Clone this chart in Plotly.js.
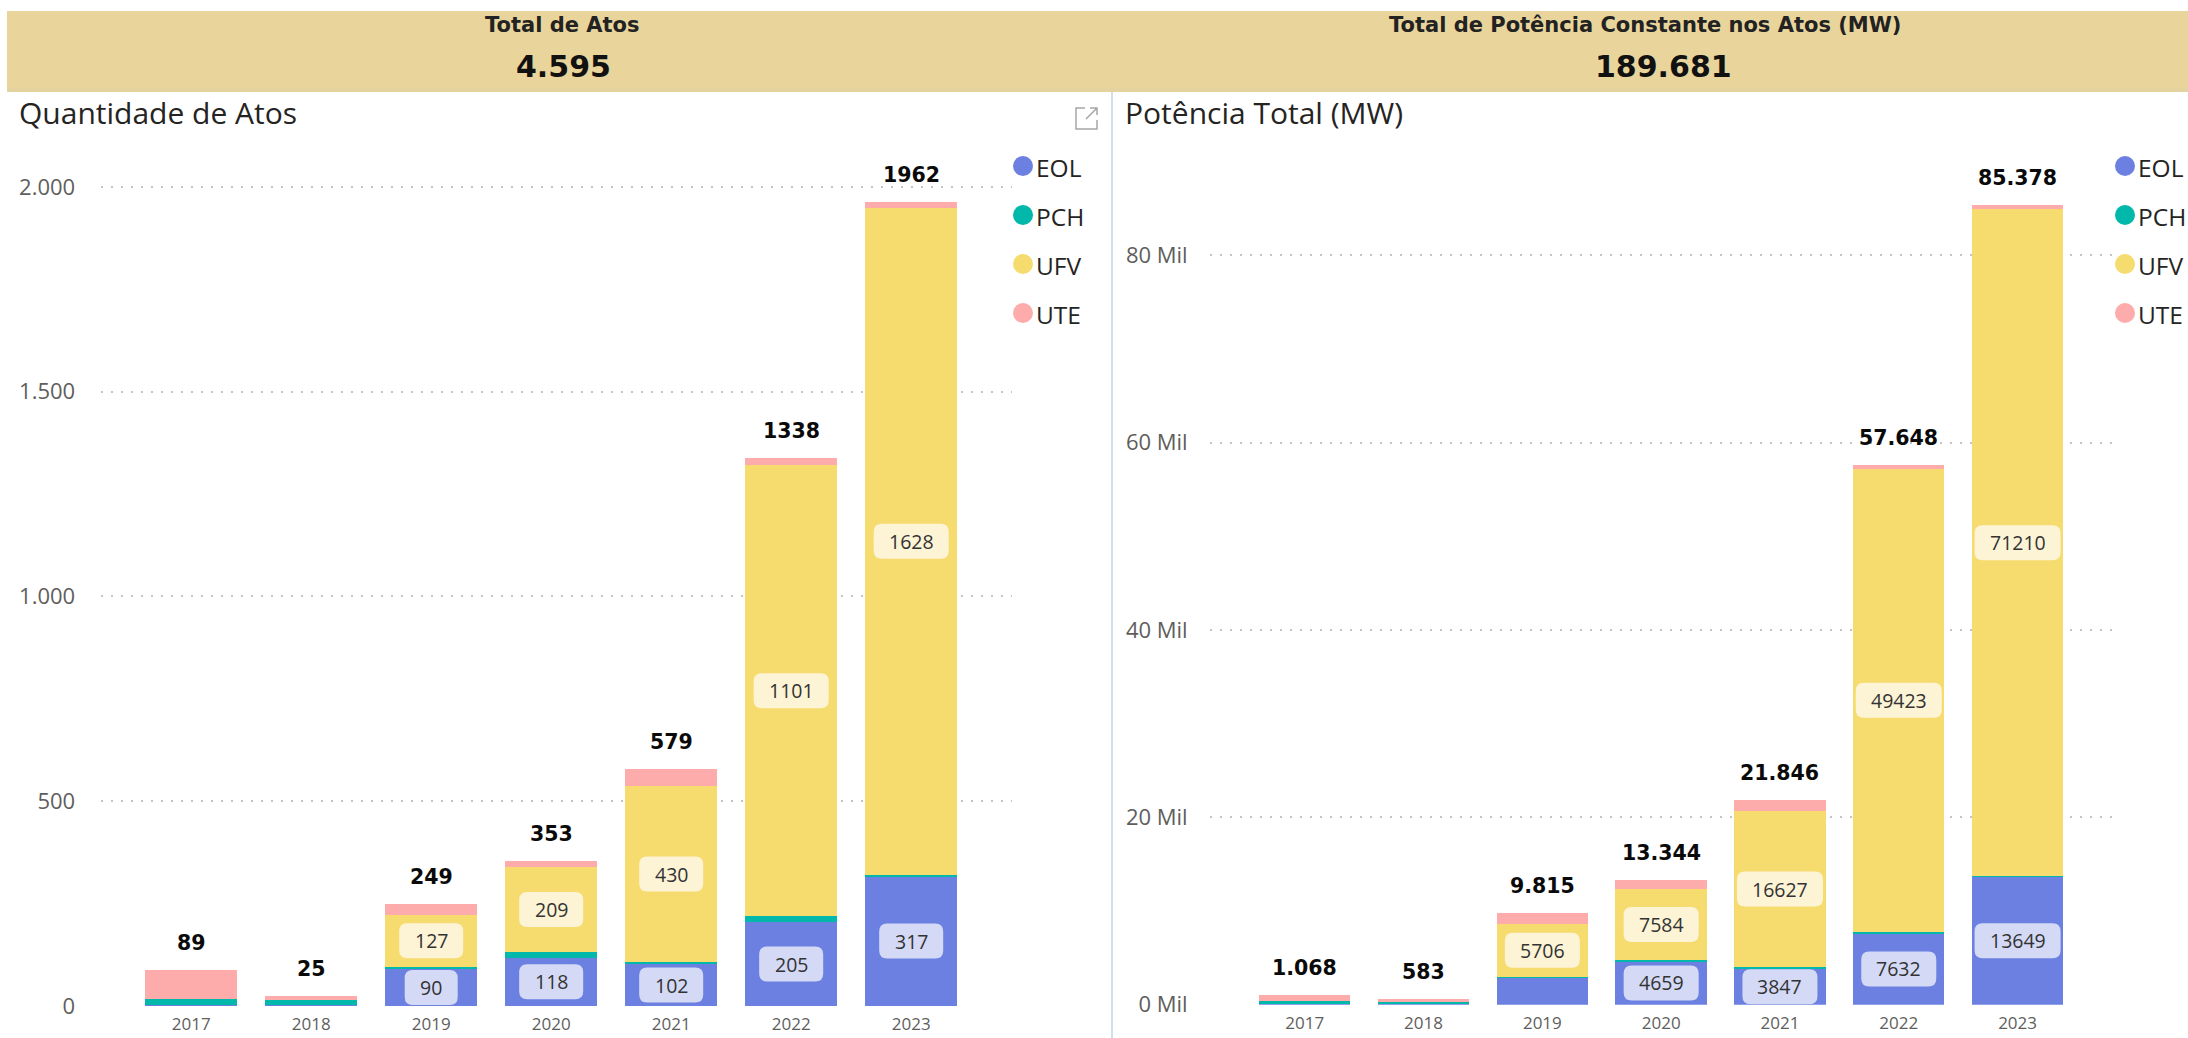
<!DOCTYPE html>
<html><head><meta charset="utf-8">
<script src="https://cdn.plot.ly/plotly-3.0.1.min.js"></script>
<style>html,body{margin:0;padding:0;background:#fff;overflow:hidden}#chart{width:2188px;height:1038px}</style>
</head><body><div id="chart"></div>
<script>
// ---------- data ----------
const years = ['2017', '2018', '2019', '2020', '2021', '2022', '2023'];
const seriesNames = ['EOL', 'PCH', 'UFV', 'UTE'];

// Quantidade de Atos
const atosEOL = [2, 3, 90, 118, 102, 205, 317];
const atosPCH = [16, 11, 6, 13, 5, 14, 4];
const atosUFV = [0, 0, 127, 209, 430, 1101, 1628];
const atosUTE = [71, 11, 26, 13, 42, 18, 13];

// Potência Total (MW)
const potEOL = [100, 120, 2900, 4659, 3847, 7632, 13649];
const potPCH = [250, 150, 50, 120, 182, 163, 60];
const potUFV = [0, 0, 5706, 7584, 16627, 49423, 71210];
const potUTE = [718, 313, 1159, 981, 1190, 430, 459];

const atosTickVals = [0, 500, 1000, 1500, 2000];
const potTickVals = [0, 20000, 40000, 60000, 80000];
const potTickText = ['0 Mil', '20 Mil', '40 Mil', '60 Mil', '80 Mil'];

const cardTitles = ['Total de Atos', 'Total de Potência Constante nos Atos (MW)'];
const cardValues = ['4.595', '189.681'];
const chartTitles = ['Quantidade de Atos', 'Potência Total (MW)'];

// ---------- styles ----------
const colors = ['#6B80E0', '#01B8AA', '#F6DB6F', '#FDABAB'];
const labelBg = ['#D4DAF6', null, '#FDF4D6', null];
const W = 2188, H = 1038;
const px = x => x / W;
const py = y => 1 - y / H;
const GRID = '#C4C4C4';
const TXT = '#252423';
const AX = '#605E5C';

const atosSeries = [atosEOL, atosPCH, atosUFV, atosUTE];
const potSeries = [potEOL, potPCH, potUFV, potUTE];

const dotFmt = n => String(n).replace(/\B(?=(\d{3})+(?!\d))/g, '.');

const traces = [];
const annotations = [];
const shapes = [];

function addChart(seriesArr, xr, yr, yTop, totalFmt, legendX) {
  seriesArr.forEach((vals, i) => {
    traces.push({
      type: 'bar', x: years, y: vals, name: seriesNames[i],
      xaxis: xr, yaxis: yr, showlegend: false,
      marker: {color: colors[i], line: {width: 0}},
      hovertemplate: '%{x} ' + seriesNames[i] + ': %{y}<extra></extra>'
    });
    // legend entry (circle + text)
    const cy = 166 + 49 * i;
    shapes.push({type: 'circle', xref: 'paper', yref: 'paper',
      x0: px(legendX - 10), x1: px(legendX + 10), y0: py(cy + 10), y1: py(cy - 10),
      fillcolor: colors[i], line: {width: 0}});
    annotations.push({xref: 'paper', yref: 'paper', x: px(legendX + 11), y: py(cy + 1),
      xanchor: 'left', yanchor: 'middle', text: seriesNames[i], showarrow: false,
      font: {family: 'Open Sans', size: 24.5, color: TXT}});
  });
  // totals + inside labels
  years.forEach((yearName, j) => {
    let base = 0;
    seriesArr.forEach((vals, i) => {
      const v = vals[j];
      const mid = base + v / 2;
      base += v;
      if (labelBg[i] && v / yTop > 0.0346) {
        const s = String(v);
        const a = (31 + 11 * s.length) / 2, b = 17.5, r = 8;
        shapes.push({
          type: 'path', xref: xr, yref: yr, xsizemode: 'pixel', ysizemode: 'pixel',
          xanchor: j, yanchor: mid, layer: 'above',
          fillcolor: labelBg[i], line: {width: 0},
          path: `M ${-a + r},${-b} L ${a - r},${-b} Q ${a},${-b} ${a},${-b + r} L ${a},${b - r} Q ${a},${b} ${a - r},${b} L ${-a + r},${b} Q ${-a},${b} ${-a},${b - r} L ${-a},${-b + r} Q ${-a},${-b} ${-a + r},${-b} Z`
        });
        annotations.push({
          xref: xr, yref: yr, x: j, y: mid, text: s, showarrow: false,
          font: {family: 'Open Sans', size: 19.5, color: '#333333'}
        });
      }
    });
    annotations.push({
      xref: xr, yref: yr, x: j, y: base, yshift: 27, yanchor: 'middle',
      text: '<b>' + totalFmt(base) + '</b>', showarrow: false,
      font: {family: 'DejaVu Sans', size: 20.5, color: '#0A0A0A'}
    });
  });
}

const atosTop = 2114.5, potTop = 92320;
addChart(atosSeries, 'x', 'y', atosTop, n => String(n), 1023);
addChart(potSeries, 'x2', 'y2', potTop, dotFmt, 2125);

// banner
shapes.push({type: 'rect', xref: 'paper', yref: 'paper', x0: px(7), x1: 1, y0: py(92), y1: py(11),
  fillcolor: '#E9D59C', line: {width: 0}, layer: 'below'});
shapes.push({type: 'rect', xref: 'paper', yref: 'paper', x0: px(7), x1: 1, y0: py(92), y1: py(88),
  fillcolor: '#E4D29F', line: {width: 0}, layer: 'below'});
// divider
shapes.push({type: 'line', xref: 'paper', yref: 'paper', x0: px(1112), x1: px(1112), y0: 0, y1: py(92),
  line: {color: '#D3DEE8', width: 2}, layer: 'below'});
// expand icon
const ic = '#A6A6A6';
shapes.push({type: 'path', xref: 'paper', yref: 'paper', line: {color: ic, width: 1.5},
  path: `M ${px(1085)},${py(108)} L ${px(1076)},${py(108)} L ${px(1076)},${py(129)} L ${px(1097)},${py(129)} L ${px(1097)},${py(120)}`});
shapes.push({type: 'path', xref: 'paper', yref: 'paper', line: {color: ic, width: 1.5},
  path: `M ${px(1086)},${py(119)} L ${px(1097)},${py(108)} M ${px(1090)},${py(108)} L ${px(1097)},${py(108)} L ${px(1097)},${py(115)}`});

// banner texts
[[562, 563, 0], [1645, 1663, 1]].forEach(([cx, vx, k]) => {
  annotations.push({xref: 'paper', yref: 'paper', x: px(cx), y: py(25), xanchor: 'center', yanchor: 'middle',
    text: '<b>' + cardTitles[k] + '</b>', showarrow: false,
    font: {family: 'DejaVu Sans', size: 21, color: '#222222'}});
  annotations.push({xref: 'paper', yref: 'paper', x: px(vx), y: py(66), xanchor: 'center', yanchor: 'middle',
    text: '<b>' + cardValues[k] + '</b>', showarrow: false,
    font: {family: 'DejaVu Sans', size: 30, color: '#111111'}});
});
// chart titles
[[17, 0], [1123, 1]].forEach(([lx, k]) => {
  annotations.push({xref: 'paper', yref: 'paper', x: px(lx), y: py(113), xanchor: 'left', yanchor: 'middle',
    text: chartTitles[k], showarrow: false,
    font: {family: 'Open Sans', size: 30, color: TXT}});
});

const xBase = {type: 'category', showgrid: false, zeroline: false, showline: false, ticks: '',
  tickfont: {family: 'Open Sans', size: 17, color: AX}, ticklabelstandoff: 6, fixedrange: true};
const yBase = {showgrid: true, gridcolor: GRID, griddash: '2px,8px', gridwidth: 1.5, zeroline: false,
  showline: false, ticks: '', tickfont: {family: 'Open Sans', size: 22, color: AX}, fixedrange: true};

const layout = {
  width: W, height: H, margin: {l: 0, r: 0, t: 0, b: 0},
  paper_bgcolor: '#ffffff', plot_bgcolor: 'rgba(0,0,0,0)',
  separators: ',.', barmode: 'stack', bargap: 0.23,
  font: {family: 'Open Sans', color: TXT},
  xaxis: Object.assign({}, xBase, {domain: [px(101.2), px(1012)], range: [-0.75, 6.84], anchor: 'y'}),
  yaxis: Object.assign({}, yBase, {domain: [py(1006), py(140)], range: [0, atosTop], tickvals: atosTickVals,
    tickformat: ',d', ticklabelstandoff: 25, anchor: 'x'}),
  xaxis2: Object.assign({}, xBase, {domain: [px(1209.7), px(2113.8)], range: [-0.8, 6.81], anchor: 'y2'}),
  yaxis2: Object.assign({}, yBase, {domain: [py(1004.7), py(140)], range: [0, potTop], tickvals: potTickVals,
    ticktext: potTickText, ticklabelstandoff: 21, anchor: 'x2'}),
  shapes: shapes, annotations: annotations, showlegend: false, hovermode: 'closest'
};

Plotly.newPlot('chart', traces, layout, {displayModeBar: false, responsive: false});
</script></body></html>
